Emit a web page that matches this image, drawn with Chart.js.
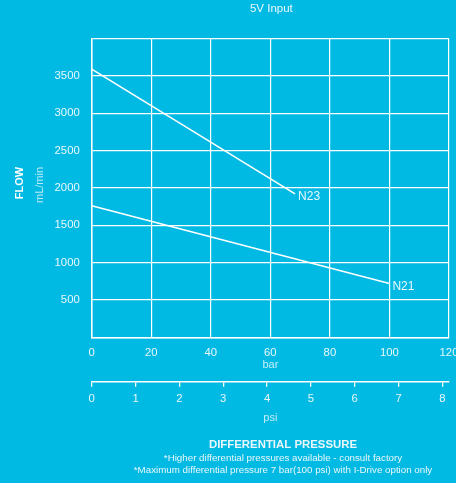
<!DOCTYPE html>
<html>
<head>
<meta charset="utf-8">
<script src="https://cdn.jsdelivr.net/npm/chart.js@4.4.0/dist/chart.umd.min.js"></script>
<style>
html, body { margin: 0; padding: 0; background: #00bae3; }
#wrap { width: 456px; height: 483px; }
</style>
</head>
<body>
<div id="wrap"><canvas id="flowChart" width="456" height="483"></canvas></div>
<script>
// values
var n23Bar = [0, 68.3];
var n23Flow = [3590, 1920];
var n21Bar = [0, 100];
var n21Flow = [1760, 720];
var seriesNames = ["N23", "N21"];
var flowTicks = [500, 1000, 1500, 2000, 2500, 3000, 3500];
var barTicks = [0, 20, 40, 60, 80, 100, 120];
var psiTicks = [0, 1, 2, 3, 4, 5, 6, 7, 8];

var txt = "#e9f7fc";
var fam = "'Liberation Sans', Arial, Helvetica, sans-serif";

function pts(xs, ys) {
    return xs.map(function(x, i){ return {x: x, y: ys[i]}; });
}

// texts that sit outside the axes
var textPlugin = {
    id: "texts",
    afterDraw: function(chart) {
        var ctx = chart.ctx, a = chart.chartArea;
        ctx.save();
        ctx.fillStyle = txt;
        ctx.textBaseline = "middle";
        ctx.textAlign = "center";
        ctx.font = "11.5px " + fam;
        ctx.fillText("5V Input", (a.left + a.right) / 2 + 1, 9);

        ctx.font = "bold 11.4px " + fam;
        ctx.fillText("DIFFERENTIAL PRESSURE", 283, 445);
        ctx.font = "9.75px " + fam;
        ctx.fillText("*Higher differential pressures available - consult factory", 283, 458);
        ctx.fillText("*Maximum differential pressure 7 bar(100 psi) with I-Drive option only", 283, 470);

        ctx.save();
        ctx.translate(20, 183);
        ctx.rotate(-Math.PI / 2);
        ctx.font = "bold 11px " + fam;
        ctx.fillStyle = "#ffffff";
        ctx.fillText("FLOW", 0, 0);
        ctx.restore();
        ctx.save();
        ctx.translate(40, 185);
        ctx.rotate(-Math.PI / 2);
        ctx.font = "11px " + fam;
        ctx.fillStyle = "rgba(230,246,252,0.8)";
        ctx.fillText("mL/min", 0, 0);
        ctx.restore();

        // series names at the end of each line
        ctx.textAlign = "left";
        ctx.font = "12px " + fam;
        chart.data.datasets.forEach(function(ds, i){
            var meta = chart.getDatasetMeta(i);
            var last = meta.data[meta.data.length - 1];
            ctx.fillText(ds.label, last.x + 3, last.y + 3);
        });
        ctx.restore();
    }
};

var ctx = document.getElementById("flowChart");
var flowChart = new Chart(ctx, {
    type: "line",
    data: {
        datasets: [
            { label: seriesNames[0], data: pts(n23Bar, n23Flow), xAxisID: "x", yAxisID: "y" },
            { label: seriesNames[1], data: pts(n21Bar, n21Flow), xAxisID: "x", yAxisID: "y" }
        ]
    },
    options: {
        responsive: false,
        animation: false,
        layout: { padding: { top: 38.5, right: 7, bottom: 0, left: 0 } },
        elements: {
            line: { borderColor: "#ffffff", borderWidth: 1.6, tension: 0, fill: false },
            point: { radius: 0, hoverRadius: 0 }
        },
        plugins: {
            legend: { display: false },
            title: { display: false },
            tooltip: { enabled: false }
        },
        scales: {
            x: {
                type: "linear",
                position: "bottom",
                weight: 0,
                min: 0,
                max: 120,
                afterBuildTicks: function(s){ s.ticks = barTicks.map(function(v){ return {value: v}; }); },
                ticks: { color: txt, font: { family: fam, size: 11.3 }, padding: 9, maxRotation: 0 },
                grid: { color: "#ffffff", lineWidth: 1.2, drawTicks: false },
                border: { color: "#ffffff", width: 1.5 },
                title: { display: true, text: "bar", color: "rgba(230,246,252,0.85)", font: { family: fam, size: 11 }, padding: { top: 0, bottom: 10 } },
                afterFit: function(s){ s.height = 44.4; s.paddingLeft = 0; s.paddingRight = 0; }
            },
            x2: {
                type: "linear",
                position: "bottom",
                weight: 1,
                min: 0,
                max: 8.15,
                afterBuildTicks: function(s){ s.ticks = psiTicks.map(function(v){ return {value: v}; }); },
                ticks: { color: txt, font: { family: fam, size: 11.3 }, padding: 5.7, maxRotation: 0 },
                grid: { drawOnChartArea: false, drawTicks: true, tickLength: 5, color: "#ffffff", lineWidth: 1.3 },
                border: { color: "#ffffff", width: 1.5 },
                title: { display: true, text: "psi", color: "rgba(230,246,252,0.85)", font: { family: fam, size: 11 }, padding: { top: 0, bottom: 58.4 } },
                afterFit: function(s){ s.height = 101.3; s.paddingLeft = 0; s.paddingRight = 0; }
            },
            y: {
                min: 0,
                max: 4000,
                ticks: {
                    stepSize: 500,
                    color: txt,
                    font: { family: fam, size: 11.3 },
                    padding: 12,
                    callback: function(v){ return flowTicks.indexOf(v) >= 0 ? v : ""; }
                },
                grid: { color: "#ffffff", lineWidth: 1.2, drawTicks: false },
                border: { color: "#ffffff", width: 1.5 },
                afterFit: function(s){ s.width = 91.7; s.paddingTop = 0; s.paddingBottom = 0; }
            }
        }
    },
    plugins: [textPlugin]
});
</script>
</body>
</html>
